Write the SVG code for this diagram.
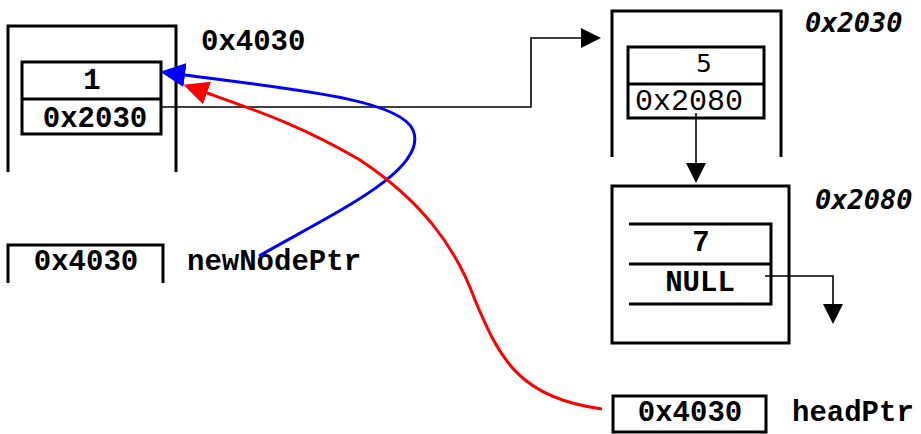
<svg xmlns="http://www.w3.org/2000/svg" width="921" height="434" viewBox="0 0 921 434">
<style>
.box{fill:none;stroke:#000;stroke-width:3}
.t{font-family:"Liberation Mono","Courier New",monospace;font-weight:bold;font-size:29px;fill:#000}
.r{font-family:"Liberation Mono","Courier New",monospace;font-weight:normal;font-size:30px;fill:#000}
.it{font-family:"DejaVu Sans Mono","Liberation Mono",monospace;font-weight:bold;font-style:italic;font-size:27px;fill:#000}
.c{fill:none;stroke:#000;stroke-width:1.6}
</style>
<defs>
<marker id="ab" markerUnits="userSpaceOnUse" markerWidth="20" markerHeight="20" refX="0" refY="10" orient="auto" viewBox="0 0 20 20"><path d="M0,0 L20,10 L0,20 z" fill="#000"/></marker>
<marker id="abl" markerUnits="userSpaceOnUse" markerWidth="25" markerHeight="24" refX="0" refY="12" orient="auto" viewBox="0 0 25 24"><path d="M0,0 L25,12 L0,24 z" fill="#0000ff"/></marker>
<marker id="ard" markerUnits="userSpaceOnUse" markerWidth="25" markerHeight="24" refX="0" refY="12" orient="auto" viewBox="0 0 25 24"><path d="M0,0 L25,12 L0,24 z" fill="#ff0000"/></marker>
</defs>
<rect width="921" height="434" fill="#fff"/>
<g id="node4030">
<path class="box" d="M8,172 V26 H176 V172"/>
<rect class="box" x="22" y="62" width="139" height="72"/>
<line class="box" x1="22" y1="99" x2="161" y2="99"/>
<text class="t" x="92" y="89" text-anchor="middle">1</text>
<text class="t" x="95" y="127" text-anchor="middle">0x2030</text>
<text class="t" x="201" y="50">0x4030</text>
</g>
<g id="node2030">
<path class="box" d="M612,157 V11 H781 V157"/>
<rect class="box" x="628" y="47" width="136" height="71"/>
<line class="box" x1="628" y1="84" x2="764" y2="84"/>
<text class="r" x="704" y="72" text-anchor="middle" style="font-family:'DejaVu Sans',sans-serif;font-size:25px">5</text>
<text class="r" x="689" y="110" text-anchor="middle">0x2080</text>
<text class="it" x="805" y="32">0x2030</text>
</g>
<g id="node2080">
<rect class="box" x="612" y="186" width="177" height="157"/>
<path class="box" d="M629,224 H771 V304 H629 M629,264 H771"/>
<text class="t" x="701" y="251" text-anchor="middle">7</text>
<text class="t" x="700" y="291" text-anchor="middle">NULL</text>
<text class="it" x="815" y="209">0x2080</text>
</g>
<g id="newNodePtr">
<path class="box" d="M8,283 V245 H163 V283"/>
<text class="t" x="86" y="270" text-anchor="middle">0x4030</text>
<text class="t" x="187" y="270">newNodePtr</text>
</g>
<g id="headPtr">
<rect class="box" x="613" y="396" width="153" height="36"/>
<text class="t" x="690" y="421" text-anchor="middle">0x4030</text>
<text class="t" x="792" y="421">headPtr</text>
</g>
<g id="connectors">
<path class="c" d="M161,107 H531 V38 H581" marker-end="url(#ab)"/>
<path class="c" d="M696,113 V163" marker-end="url(#ab)"/>
<path class="c" d="M765,276 H833 V304" marker-end="url(#ab)"/>
<path d="M259,256 C330,215 430,170 413,130 C400,100 300,90 185,75" fill="none" stroke="#0000ff" stroke-width="3" marker-end="url(#abl)"/>
<path d="M602,409 C520,398 500,360 475,300 C455,245 420,200 360,160 C300,125 255,110 207,93" fill="none" stroke="#ff0000" stroke-width="3" marker-end="url(#ard)"/>
</g>
</svg>
